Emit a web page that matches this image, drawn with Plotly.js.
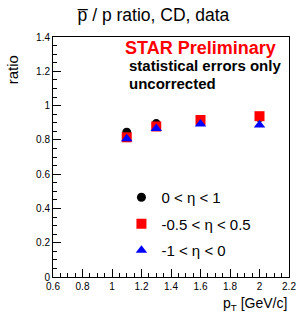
<!DOCTYPE html>
<html><head><meta charset="utf-8">
<script src="https://cdn.plot.ly/plotly-3.0.1.min.js"></script>
<style>body{margin:0;padding:0;background:#fff}#chart{width:298px;height:315px}</style>
</head><body><div id="chart"></div>
<script>
const ptBins = [1.1, 1.3, 1.6, 2.0];
const ratioEta0to1 = [0.845, 0.895, 0.91, 0.93];
const ratioEtaMid = [0.815, 0.878, 0.916, 0.938];
const ratioEtaNeg = [0.806, 0.866, 0.892, 0.887];
const seriesNames = ['0 < η < 1', '-0.5 < η < 0.5', '-1 < η < 0'];
const xTicks = [0.6, 0.8, 1, 1.2, 1.4, 1.6, 1.8, 2, 2.2];
const yTicks = [0, 0.2, 0.4, 0.6, 0.8, 1, 1.2, 1.4];

const F = 'Liberation Sans, Arial, sans-serif';
const traces = [
  {x: ptBins, y: ratioEta0to1, name: seriesNames[0], mode: 'markers', type: 'scatter', legendgroup: 'a',
   marker: {symbol: 'circle', size: 9, color: '#000000'}},
  {x: ptBins, y: ratioEtaMid, name: seriesNames[1], mode: 'markers', type: 'scatter', legendgroup: 'b',
   marker: {symbol: 'square', size: 10, color: '#ff0000'}},
  {x: ptBins, y: ratioEtaNeg, name: seriesNames[2], mode: 'markers', type: 'scatter', legendgroup: 'c',
   marker: {symbol: 'triangle-up', size: 10, color: '#0000ff'}}
];
const axisCommon = {
  showgrid: false, zeroline: false, showline: true, linecolor: '#000', linewidth: 1, mirror: true,
  ticks: 'inside', ticklen: 8, tickcolor: '#000', tickfont: {family: F, size: 10, color: '#000'},
  minor: {ticks: 'inside', ticklen: 4, dtick: 0.05, tickcolor: '#000', showgrid: false}
};
const layout = {
  width: 298, height: 315,
  margin: {l: 53, r: 9, t: 37, b: 38},
  paper_bgcolor: '#fff', plot_bgcolor: '#fff',
  showlegend: true,
  title: {text: 'p\u0305 / p ratio, CD, data', x: 0.515, xanchor: 'center', y: 0.952, yanchor: 'middle',
          font: {family: F, size: 17.5, color: '#000'}},
  xaxis: Object.assign({}, axisCommon, {range: [0.6, 2.2], tickmode: 'array', tickvals: xTicks,
          ticktext: xTicks.map(String)}),
  yaxis: Object.assign({}, axisCommon, {range: [0, 1.4], tickmode: 'array', tickvals: yTicks,
          ticktext: yTicks.map(String)}),
  legend: {x: 0.29, xanchor: 'left', y: 0.4, yanchor: 'top', bgcolor: 'rgba(0,0,0,0)',
           font: {family: F, size: 15, color: '#000'}, traceorder: 'grouped', tracegroupgap: 4},
  annotations: [
    {text: '<b>STAR Preliminary</b>', xref: 'paper', yref: 'paper', x: 0.955, y: 0.955, xanchor: 'right', yanchor: 'middle',
     showarrow: false, font: {family: F, size: 18, color: '#ff0000'}},
    {text: '<b>statistical errors only</b>', xref: 'paper', yref: 'paper', x: 0.315, y: 0.883, xanchor: 'left', yanchor: 'middle',
     showarrow: false, font: {family: F, size: 15, color: '#000'}},
    {text: '<b>uncorrected</b>', xref: 'paper', yref: 'paper', x: 0.315, y: 0.808, xanchor: 'left', yanchor: 'middle',
     showarrow: false, font: {family: F, size: 15, color: '#000'}},
    {text: 'p<sub>T</sub> [GeV/c]', xref: 'paper', yref: 'paper', x: 1.0, y: -0.112, xanchor: 'right', yanchor: 'middle',
     showarrow: false, font: {family: F, size: 14, color: '#000'}},
    {text: 'ratio', xref: 'paper', yref: 'paper', x: -0.174, y: 0.865, xanchor: 'center', yanchor: 'middle', textangle: -90,
     showarrow: false, font: {family: F, size: 15, color: '#000'}}
  ]
};
Plotly.newPlot('chart', traces, layout, {displayModeBar: false, staticPlot: true});
</script></body></html>
